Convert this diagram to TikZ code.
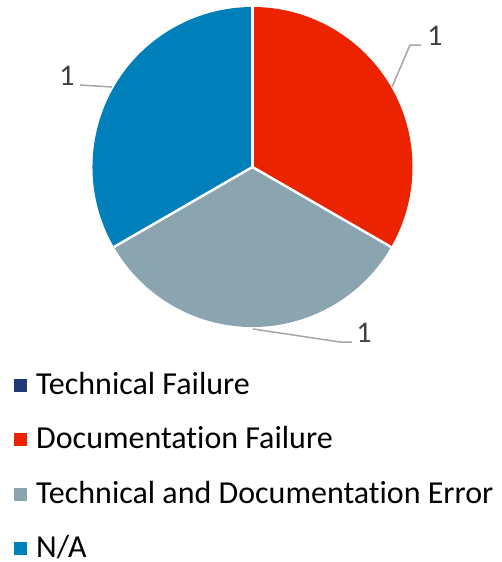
\documentclass[tikz,border=0pt]{standalone}
\usepackage{fontspec}
\setmainfont{Carlito}[RawFeature=-liga]
\definecolor{cRed}{RGB}{235,35,0}
\definecolor{cGray}{RGB}{138,164,176}
\definecolor{cBlue}{RGB}{0,128,186}
\definecolor{cNavy}{RGB}{31,56,120}
\definecolor{cLead}{RGB}{166,166,166}
\definecolor{cLab}{RGB}{64,64,64}
\begin{document}
\begin{tikzpicture}[x=1pt,y=-1pt,
  slice/.style={draw=white,line width=2.5pt,line join=round},
  lead/.style={draw=cLead,line width=1.5pt},
  vallab/.style={anchor=base,text=cLab,font=\fontsize{30}{32}\selectfont,inner sep=0pt},
  legbox/.style={minimum size=13pt,inner sep=0pt},
  legtext/.style={anchor=base west,font=\fontsize{32}{34}\selectfont,inner sep=0pt}]
\useasboundingbox (0,0) rectangle (501,562);
\coordinate (c) at (252.5,167);
\def\R{160}
% y axis is flipped: tikz angle = - visual angle
\fill[cRed] (c) -- ++(-90:\R) arc[start angle=-90,end angle=30,radius=\R] -- cycle;
\fill[cGray] (c) -- ++(30:\R) arc[start angle=30,end angle=150,radius=\R] -- cycle;
\fill[cBlue] (c) -- ++(150:\R) arc[start angle=150,end angle=270,radius=\R] -- cycle;
\draw[slice] (c) -- ++(-90:\R);
\draw[slice] (c) -- ++(30:\R);
\draw[slice] (c) -- ++(150:\R);
% value labels
\node[vallab] (l1) at (435,45) {1};
\node[vallab] (l2) at (67,85) {1};
\node[vallab] (l3) at (364,342) {1};
\coordinate (a1) at (392,87);
\coordinate (b1) at (410,45);
\coordinate (e1) at (421,45);
\coordinate (a2) at (80,85);
\coordinate (e2) at (112,87);
\coordinate (a3) at (253,329);
\coordinate (b3) at (340,342);
\coordinate (e3) at (352,342);
\draw[lead] (a1) -- (b1) -- (e1);
\draw[lead] (a2) -- (e2);
\draw[lead] (a3) -- (b3) -- (e3);
% legend
\node[legbox,fill=cNavy] (s1) at (20.5,385) {};
\node[legbox,fill=cRed] (s2) at (20.5,439.5) {};
\node[legbox,fill=cGray] (s3) at (20.5,494) {};
\node[legbox,fill=cBlue] (s4) at (20.5,548.5) {};
\node[legtext] (t1) at (36,394) {Technical Failure};
\node[legtext] (t2) at (36,448.5) {Documentation Failure};
\node[legtext] (t3) at (36,503) {Technical and Documentation Error};
\node[legtext] (t4) at (36,557.5) {N/A};
\end{tikzpicture}
\end{document}
